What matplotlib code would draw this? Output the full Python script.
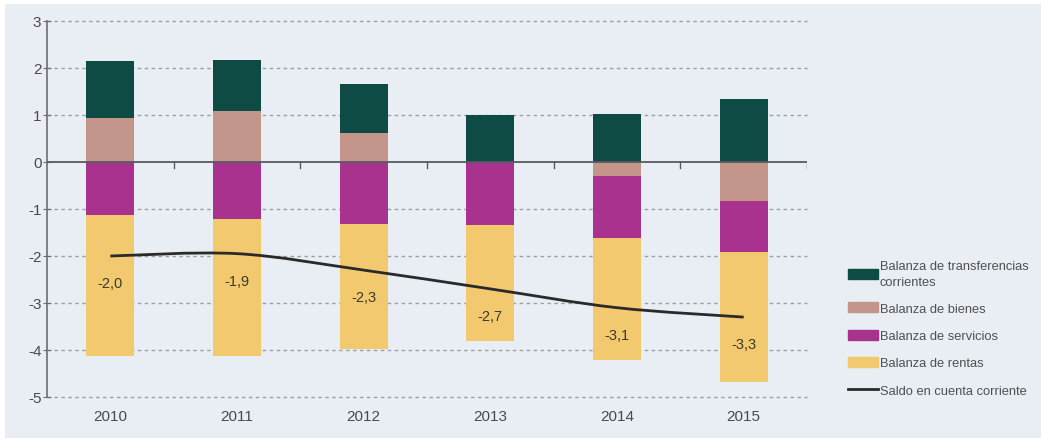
import numpy as np
import matplotlib
matplotlib.use("Agg")
import matplotlib.pyplot as plt
from matplotlib.path import Path
from matplotlib.patches import PathPatch, Rectangle, Patch
from matplotlib.lines import Line2D

years = ["2010", "2011", "2012", "2013", "2014", "2015"]
transferencias = [1.20, 1.07, 1.03, 1.00, 1.03, 1.33]
bienes = [0.94, 1.09, 0.62, 0.00, -0.30, -0.84]
servicios = [-1.13, -1.22, -1.31, -1.35, -1.31, -1.07]
rentas = [-3.00, -2.91, -2.67, -2.46, -2.61, -2.78]
saldo = [-2.0, -1.95, -2.3, -2.7, -3.1, -3.3]
saldo_labels = ["-2,0", "-1,9", "-2,3", "-2,7", "-3,1", "-3,3"]
legend_labels = ["Balanza de transferencias\ncorrientes", "Balanza de bienes",
                 "Balanza de servicios", "Balanza de rentas", "Saldo en cuenta corriente"]

c_trans = "#0f4b45"
c_bienes = "#c4958b"
c_serv = "#a9328f"
c_rent = "#f3c96f"
c_line = "#2a2a2a"
bg = "#e9edf4"

plt.rcParams['font.family'] = ['Liberation Sans', 'DejaVu Sans']

fig = plt.figure(figsize=(10.41, 4.39), dpi=100, facecolor="white")
fig.patches.append(Rectangle((5/1041, 0), 1 - 5/1041, 1 - 5/439, transform=fig.transFigure,
                             facecolor=bg, edgecolor="none", zorder=-10))
ax = fig.add_axes([47/1041, 1 - 398/439, (807 - 47)/1041, (398 - 22)/439])
ax.set_facecolor(bg)

x = np.arange(len(years))
w = 0.38
tr = np.array(transferencias); bi = np.array(bienes)
se = np.array(servicios); re = np.array(rentas)

pos_b = np.where(bi > 0, bi, 0)
neg_b = np.where(bi < 0, bi, 0)
ax.bar(x, pos_b, w, color=c_bienes, zorder=2)
ax.bar(x, tr, w, bottom=pos_b, color=c_trans, zorder=2)
ax.bar(x, neg_b, w, color=c_bienes, zorder=2)
ax.bar(x, se, w, bottom=neg_b, color=c_serv, zorder=2)
ax.bar(x, re, w, bottom=neg_b + se, color=c_rent, zorder=2)

# smooth line (Catmull-Rom -> Bezier)
ys = np.array(saldo, dtype=float)
xs = x.astype(float)
verts = [(xs[0], ys[0])]
codes = [Path.MOVETO]
n = len(xs)
for i in range(n - 1):
    p0 = (xs[max(i - 1, 0)], ys[max(i - 1, 0)])
    p1 = (xs[i], ys[i]); p2 = (xs[i + 1], ys[i + 1])
    p3 = (xs[min(i + 2, n - 1)], ys[min(i + 2, n - 1)])
    c1 = (p1[0] + (p2[0] - p0[0]) / 6, p1[1] + (p2[1] - p0[1]) / 6)
    c2 = (p2[0] - (p3[0] - p1[0]) / 6, p2[1] - (p3[1] - p1[1]) / 6)
    verts += [c1, c2, p2]
    codes += [Path.CURVE4] * 3
ax.add_patch(PathPatch(Path(verts, codes), facecolor="none", edgecolor=c_line, lw=2, zorder=3))

for xi, yi, lab in zip(xs, ys, saldo_labels):
    ax.text(xi, yi - 0.58, lab, ha="center", va="center", fontsize=10.5, color="#3a3a2a", zorder=4)

ax.set_xlim(-0.5, 5.5)
ax.set_ylim(-5, 3)
ax.set_yticks(range(-5, 4))
ax.set_yticklabels([str(v) for v in range(-5, 4)])
for v in range(-5, 4):
    if v != 0:
        ax.axhline(v, color="#9a9ea6", lw=1, ls=(0, (2.5, 2.5)), zorder=1, clip_on=False)
ax.axhline(0, color="#555a60", lw=1.3, zorder=3)
for b in np.arange(0.5, 5.6, 1.0):
    ax.plot([b, b], [0, -0.12], color="#555a60", lw=1, zorder=3)

for s in ["top", "right", "bottom"]:
    ax.spines[s].set_visible(False)
ax.spines["left"].set_color("#6a6e74")
ax.spines["left"].set_linewidth(1.2)
ax.tick_params(axis="y", direction="inout", length=6, color="#6a6e74", labelsize=11, labelcolor="#4a4a4a", pad=1)
ax.set_xticks(x)
ax.set_xticklabels(years)
ax.tick_params(axis="x", length=0, labelsize=11, labelcolor="#4a4a4a", pad=9)

handles = [Patch(color=c_trans), Patch(color=c_bienes), Patch(color=c_serv), Patch(color=c_rent),
           Line2D([0], [0], color=c_line, lw=2)]
leg = fig.legend(handles, legend_labels, loc="upper left", bbox_to_anchor=(842/1041, 1 - 255/439),
                 frameon=False, fontsize=9.3, labelcolor="#505050", handlelength=2.3, handleheight=0.8,
                 handletextpad=0.12, labelspacing=1.15, borderpad=0)
leg.get_texts()[0].set_linespacing(1.35)

fig.savefig("out.png", dpi=100, facecolor="white")
